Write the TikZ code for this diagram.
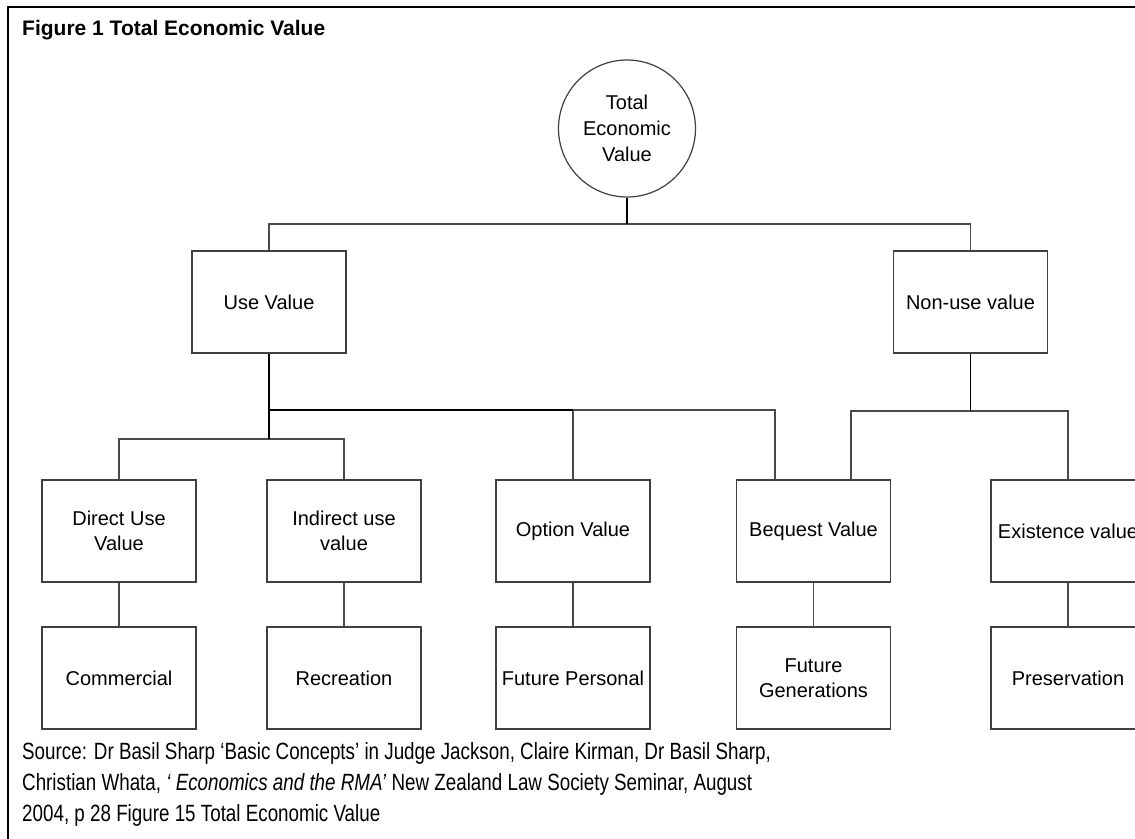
\documentclass[tikz,border=0pt]{standalone}
\usepackage{fontspec}
\setmainfont{Liberation Sans}
\newfontfamily\capfont[FakeStretch=0.8]{Liberation Sans}
\definecolor{boxgray}{HTML}{404040}
\definecolor{linegray}{HTML}{4A4A4A}
\tikzset{
  box/.style={draw=boxgray, line width=1.2pt, minimum width=154pt, minimum height=102pt,
    inner sep=0pt, align=center, font=\fontsize{20}{25}\selectfont, text=black},
  thinline/.style={draw=linegray, line width=1.2pt},
  thickline/.style={draw=black, line width=2.2pt},
  frameline/.style={draw=black, line width=2.6pt},
  caption/.style={anchor=base west, inner sep=0pt, font=\capfont\fontsize{23.5}{31}\selectfont},
}
\begin{document}
\begin{tikzpicture}[x=1pt,y=-1pt]
\clip (0,0) rectangle (1135,838);
\fill[white] (0,0) rectangle (1135,838);
% frame
\draw[frameline] (8,850) -- (8,7) -- (1150,7);
% title
\node[anchor=base west, inner sep=0pt, font=\bfseries\fontsize{21}{25}\selectfont] (title) at (22,35) {Figure 1 Total Economic Value};
% nodes
\node[draw=boxgray, line width=1.2pt, circle, minimum size=137pt, inner sep=0pt, align=center,
      font=\fontsize{20}{26}\selectfont] (tev) at (627,128.5) {Total\\Economic\\Value};
\node[box] (use) at (269,302) {Use Value};
\node[box] (non) at (970.5,302) {Non-use value};
\node[box] (direct) at (119,531) {Direct Use\\Value};
\node[box] (indirect) at (344,531) {Indirect use\\value};
\node[box] (option) at (573,531) {Option Value};
\node[box] (bequest) at (813.5,531) {Bequest Value};
\node[box] (exist) at (1068,531) {Existence value};
\node[box] (commercial) at (119,678) {Commercial};
\node[box] (recreation) at (344,678) {Recreation};
\node[box] (futpers) at (573,678) {Future Personal};
\node[box] (futgen) at (813.5,678) {Future\\Generations};
\node[box] (pres) at (1068,678) {Preservation};
% junction coordinates
\coordinate (jtop) at (627,224);
\coordinate (juse) at (269,410);
\coordinate (jopt) at (573,410);
\coordinate (jbqa) at (775,410);
\coordinate (jdi) at (269,439);
\coordinate (jnon) at (970.5,411);
\coordinate (jbqb) at (851,411);
% connectors
\draw[thinline] (use.north) |- (jtop) -| (non.north);
\draw[thickline] (tev.south) -- (jtop);
\draw[thinline] (direct.north) |- (jdi) -| (indirect.north);
\draw[thinline] (jopt) -- (option.north);
\draw[thinline] (jopt) -- (jbqa) -- (jbqa |- bequest.north);
\draw[thickline] (use.south) -- (jdi);
\draw[thickline] (juse) -- (jopt);
\draw[thinline] (jbqb |- bequest.north) -- (jbqb) -| (exist.north);
\draw[thinline, draw=black] (non.south) -- (jnon);
\draw[thinline] (direct) -- (commercial);
\draw[thinline] (indirect) -- (recreation);
\draw[thinline] (option) -- (futpers);
\draw[thinline] (bequest) -- (futgen);
\draw[thinline] (exist) -- (pres);
% caption
\node[caption] (src1) at (22,759) {Source: Dr Basil Sharp ‘Basic Concepts’ in Judge Jackson, Claire Kirman, Dr Basil Sharp,};
\node[caption] (src2) at (22,790) {Christian Whata, \textit{‘ Economics and the RMA’} New Zealand Law Society Seminar, August};
\node[caption] (src3) at (22,821) {2004, p 28 Figure 15 Total Economic Value};
\end{tikzpicture}
\end{document}
